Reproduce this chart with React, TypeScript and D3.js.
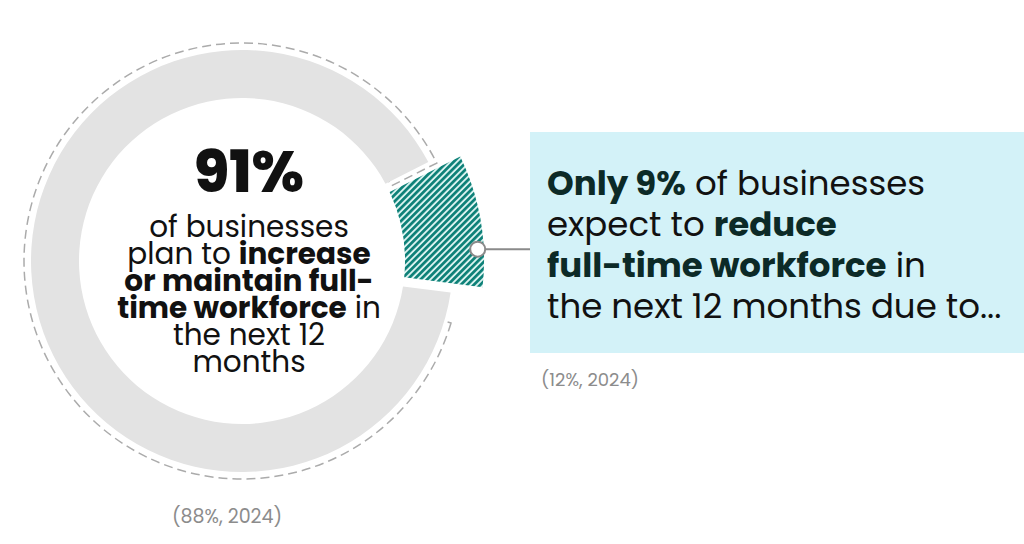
import React, { useRef, useEffect } from "react";
import * as d3 from "d3";

// share of businesses, current year vs previous year
const categories = ["reduce", "increase or maintain"];
const values2025 = [9, 91];
const values2024 = [12, 88];

const centerHeadline = "91%";
const centerLines: [string, boolean][][] = [
  [["of businesses", false]],
  [["plan to ", false], ["increase", true]],
  [["or maintain full-", true]],
  [["time workforce", true], [" in", false]],
  [["the next 12", false]],
  [["months", false]],
];
const calloutLines: [string, boolean][][] = [
  [["Only 9%", true], [" of businesses", false]],
  [["expect to ", false], ["reduce", true]],
  [["full-time workforce", true], [" in", false]],
  [["the next 12 months due to...", false]],
];
const prevLabels = ["(12%, 2024)", "(88%, 2024)"];

const FONT = "Poppins, 'Open Sans', sans-serif";

export default function App() {
  const svgRef = useRef<SVGSVGElement>(null);

  useEffect(() => {
    if (!svgRef.current) return;
    const svg = d3.select(svgRef.current);
    svg.selectAll("*").remove();

    const width = 1024;
    const height = 544;
    svg.attr("width", width).attr("height", height);

    const cx = 242;
    const cy = 261;
    const rInner = 163;
    const rOuter = 211;
    const rPop = 242;
    const rDash = 218;
    const padR = 266;

    const a0 = (63.3 * Math.PI) / 180;

    const pie = d3
      .pie<number>()
      .sort(null)
      .value((d) => d)
      .startAngle(a0)
      .endAngle(a0 + 2 * Math.PI);

    const cur = pie.padAngle(0.035)(values2025);
    const prev = pie.padAngle(0)(values2024);

    // hatch pattern for highlighted slice
    const defs = svg.append("defs");
    const pat = defs
      .append("pattern")
      .attr("id", "hatch")
      .attr("patternUnits", "userSpaceOnUse")
      .attr("width", 4.6)
      .attr("height", 4.6)
      .attr("patternTransform", "rotate(45)");
    pat.append("rect").attr("width", 4.6).attr("height", 4.6).attr("fill", "#d9f2ef");
    pat.append("rect").attr("width", 2.7).attr("height", 4.6).attr("fill", "#0c8077");

    const g = svg.append("g").attr("transform", `translate(${cx},${cy})`);

    // previous year outline (dashed)
    const dashArc = d3
      .arc<d3.PieArcDatum<number>>()
      .innerRadius(rInner + 4)
      .outerRadius(rDash);
    g.append("path")
      .attr("d", dashArc(prev[1]) as string)
      .attr("fill", "none")
      .attr("stroke", "#ababab")
      .attr("stroke-width", 1.5)
      .attr("stroke-dasharray", "9 5");

    const arc = d3
      .arc<d3.PieArcDatum<number>>()
      .innerRadius(rInner)
      .outerRadius((d) => (d.index === 0 ? rPop : rOuter))
      .padRadius(padR);

    g.selectAll(".slice")
      .data(cur)
      .enter()
      .append("path")
      .attr("class", "slice")
      .attr("d", (d) => arc(d) as string)
      .attr("fill", (d) => (d.index === 0 ? "url(#hatch)" : "#e3e3e3"));

    // callout box
    const boxX = 530;
    const boxY = 132;
    const boxH = 221;
    svg
      .append("rect")
      .attr("x", boxX)
      .attr("y", boxY)
      .attr("width", width - boxX)
      .attr("height", boxH)
      .attr("fill", "#d3f2f8");

    // callout marker + leader line
    const hi = cur[0];
    const mAngle = hi.endAngle - 0.3 * (hi.endAngle - hi.startAngle);
    const [mx, my] = d3.pointRadial(mAngle, rPop - 6);
    svg
      .append("line")
      .attr("x1", cx + mx)
      .attr("x2", boxX)
      .attr("y1", cy + my)
      .attr("y2", cy + my)
      .attr("stroke", "#8a8a8a")
      .attr("stroke-width", 2);
    svg
      .append("circle")
      .attr("cx", cx + mx)
      .attr("cy", cy + my)
      .attr("r", 7.5)
      .attr("fill", "#fff")
      .attr("stroke", "#8a8a8a")
      .attr("stroke-width", 2);

    // center text
    const tx = 249;
    svg
      .append("text")
      .attr("x", tx)
      .attr("y", 192)
      .attr("text-anchor", "middle")
      .attr("font-family", FONT)
      .attr("font-weight", 800)
      .attr("font-size", 58)
      .attr("fill", "#111")
      .text(centerHeadline);

    centerLines.forEach((line, i) => {
      const t = svg
        .append("text")
        .attr("x", tx)
        .attr("y", 237 + i * 27)
        .attr("text-anchor", "middle")
        .attr("font-family", FONT)
        .attr("font-size", 29.5)
        .attr("fill", "#111");
      line.forEach(([s, b]) => {
        t.append("tspan").attr("font-weight", b ? 700 : 400).text(s);
      });
    });

    calloutLines.forEach((line, i) => {
      const t = svg
        .append("text")
        .attr("x", 547)
        .attr("y", 195 + i * 41)
        .attr("font-family", FONT)
        .attr("font-size", 34)
        .attr("fill", "#111");
      line.forEach(([s, b]) => {
        t.append("tspan")
          .attr("font-weight", b ? 700 : 400)
          .attr("fill", b ? "#0c2a27" : "#111")
          .text(s);
      });
    });

    // previous-year labels
    svg
      .append("text")
      .attr("x", 590)
      .attr("y", 386)
      .attr("text-anchor", "middle")
      .attr("font-family", FONT)
      .attr("font-size", 18)
      .attr("fill", "#8c8c8c")
      .text(prevLabels[0]);
    svg
      .append("text")
      .attr("x", 227)
      .attr("y", 523)
      .attr("text-anchor", "middle")
      .attr("font-family", FONT)
      .attr("font-size", 19)
      .attr("fill", "#8c8c8c")
      .text(prevLabels[1]);
  }, []);

  return (
    <svg
      ref={svgRef}
      style={{ position: "absolute", left: 0, top: 0, background: "#fff" }}
    />
  );
}
